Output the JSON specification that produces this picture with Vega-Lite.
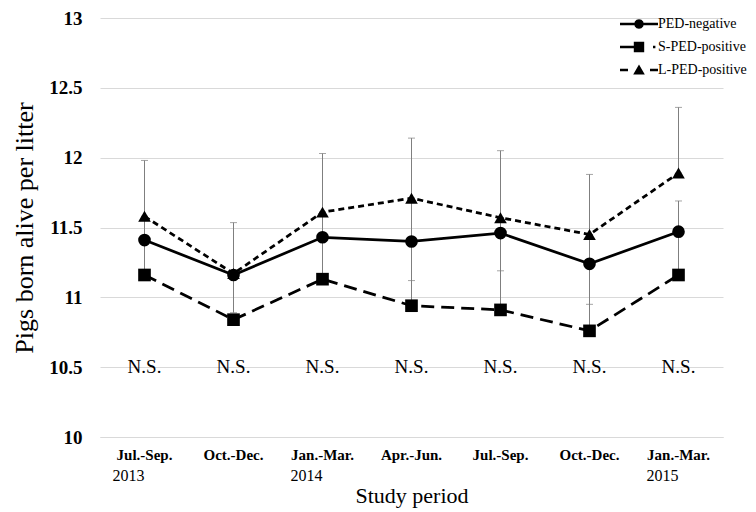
{
  "$schema": "https://vega.github.io/schema/vega-lite/v6.json",
  "width": 623,
  "height": 419,
  "autosize": "none",
  "padding": {"left": 100, "top": 18, "right": 33, "bottom": 75},
  "background": "white",
  "config": {
    "view": {"stroke": null},
    "font": "Liberation Serif",
    "legend": {"labelFont": "Liberation Serif", "labelFontSize": 14, "labelColor": "#000"}
  },
  "datasets": {
    "pts": [
      {"period": "Jul.-Sep. 2013", "series": "PED-negative", "value": 11.41, "lo": 11.41, "hi": 11.41},
      {"period": "Jul.-Sep. 2013", "series": "S-PED-positive", "value": 11.16, "lo": 11.16, "hi": 11.58},
      {"period": "Jul.-Sep. 2013", "series": "L-PED-positive", "value": 11.58, "lo": 11.58, "hi": 11.98},
      {"period": "Oct.-Dec. 2013", "series": "PED-negative", "value": 11.16, "lo": 10.89, "hi": 11.16},
      {"period": "Oct.-Dec. 2013", "series": "S-PED-positive", "value": 10.84, "lo": 10.84, "hi": 10.84},
      {"period": "Oct.-Dec. 2013", "series": "L-PED-positive", "value": 11.17, "lo": 11.17, "hi": 11.535},
      {"period": "Jan.-Mar. 2014", "series": "PED-negative", "value": 11.43, "lo": 11.43, "hi": 11.43},
      {"period": "Jan.-Mar. 2014", "series": "S-PED-positive", "value": 11.13, "lo": 11.13, "hi": 11.61},
      {"period": "Jan.-Mar. 2014", "series": "L-PED-positive", "value": 11.61, "lo": 11.61, "hi": 12.03},
      {"period": "Apr.-Jun. 2014", "series": "PED-negative", "value": 11.4, "lo": 11.12, "hi": 11.4},
      {"period": "Apr.-Jun. 2014", "series": "S-PED-positive", "value": 10.94, "lo": 10.94, "hi": 11.71},
      {"period": "Apr.-Jun. 2014", "series": "L-PED-positive", "value": 11.71, "lo": 11.71, "hi": 12.14},
      {"period": "Jul.-Sep. 2014", "series": "PED-negative", "value": 11.46, "lo": 11.19, "hi": 11.46},
      {"period": "Jul.-Sep. 2014", "series": "S-PED-positive", "value": 10.91, "lo": 10.91, "hi": 11.57},
      {"period": "Jul.-Sep. 2014", "series": "L-PED-positive", "value": 11.57, "lo": 11.57, "hi": 12.05},
      {"period": "Oct.-Dec. 2014", "series": "PED-negative", "value": 11.24, "lo": 10.95, "hi": 11.24},
      {"period": "Oct.-Dec. 2014", "series": "S-PED-positive", "value": 10.76, "lo": 10.76, "hi": 11.45},
      {"period": "Oct.-Dec. 2014", "series": "L-PED-positive", "value": 11.45, "lo": 11.45, "hi": 11.88},
      {"period": "Jan.-Mar. 2015", "series": "PED-negative", "value": 11.47, "lo": 11.47, "hi": 11.47},
      {"period": "Jan.-Mar. 2015", "series": "S-PED-positive", "value": 11.16, "lo": 11.16, "hi": 11.69},
      {"period": "Jan.-Mar. 2015", "series": "L-PED-positive", "value": 11.89, "lo": 11.89, "hi": 12.36}
    ],
    "ns": [
      {"period": "Jul.-Sep. 2013", "label": "N.S."},
      {"period": "Oct.-Dec. 2013", "label": "N.S."},
      {"period": "Jan.-Mar. 2014", "label": "N.S."},
      {"period": "Apr.-Jun. 2014", "label": "N.S."},
      {"period": "Jul.-Sep. 2014", "label": "N.S."},
      {"period": "Oct.-Dec. 2014", "label": "N.S."},
      {"period": "Jan.-Mar. 2015", "label": "N.S."}
    ]
  },
  "layer": [
    {
      "data": {"name": "pts"},
      "mark": {"type": "rule", "color": "#7f7f7f", "strokeWidth": 1},
      "encoding": {
        "x": {"field": "period", "type": "nominal", "sort": ["Jul.-Sep. 2013", "Oct.-Dec. 2013", "Jan.-Mar. 2014", "Apr.-Jun. 2014", "Jul.-Sep. 2014", "Oct.-Dec. 2014", "Jan.-Mar. 2015"], "axis": null},
        "y": {
          "field": "lo", "type": "quantitative", "title": "Pigs born alive per litter",
          "scale": {"domain": [10, 13], "nice": false, "zero": false},
          "axis": {
            "values": [10, 10.5, 11, 11.5, 12, 12.5, 13], "format": "~g",
            "grid": true, "gridColor": "#d9d9d9", "gridWidth": 1,
            "domain": false, "ticks": false,
            "labelFont": "Liberation Serif", "labelFontSize": 19, "labelFontWeight": "bold", "labelColor": "#000", "labelPadding": 18,
            "titleFont": "Liberation Serif", "titleFontSize": 26, "titleFontWeight": "normal", "titleColor": "#000", "titlePadding": 11
          }
        },
        "y2": {"field": "hi"}
      }
    },
    {
      "data": {"name": "pts"},
      "mark": {"type": "tick", "color": "#7f7f7f", "size": 7, "thickness": 1},
      "encoding": {
        "x": {"field": "period", "type": "nominal", "sort": ["Jul.-Sep. 2013", "Oct.-Dec. 2013", "Jan.-Mar. 2014", "Apr.-Jun. 2014", "Jul.-Sep. 2014", "Oct.-Dec. 2014", "Jan.-Mar. 2015"], "axis": null},
        "y": {"field": "hi", "type": "quantitative", "title": "Pigs born alive per litter"}
      }
    },
    {
      "data": {"name": "pts"},
      "mark": {"type": "tick", "color": "#7f7f7f", "size": 7, "thickness": 1},
      "encoding": {
        "x": {"field": "period", "type": "nominal", "sort": ["Jul.-Sep. 2013", "Oct.-Dec. 2013", "Jan.-Mar. 2014", "Apr.-Jun. 2014", "Jul.-Sep. 2014", "Oct.-Dec. 2014", "Jan.-Mar. 2015"], "axis": null},
        "y": {"field": "lo", "type": "quantitative", "title": "Pigs born alive per litter"}
      }
    },
    {
      "data": {"name": "pts"},
      "transform": [{"filter": "datum.series === 'PED-negative'"}],
      "mark": {"type": "line", "color": "black", "strokeWidth": 2.75},
      "encoding": {
        "x": {
          "field": "period", "type": "nominal",
          "sort": ["Jul.-Sep. 2013", "Oct.-Dec. 2013", "Jan.-Mar. 2014", "Apr.-Jun. 2014", "Jul.-Sep. 2014", "Oct.-Dec. 2014", "Jan.-Mar. 2015"],
          "axis": {
            "orient": "bottom",
            "labelExpr": "split(datum.label, ' ')[0]",
            "labelFont": "Liberation Serif", "labelFontSize": 15, "labelFontWeight": "bold", "labelColor": "#000",
            "labelPadding": 10, "labelAngle": 0, "ticks": false, "grid": false,
            "domain": true, "domainColor": "#d9d9d9", "domainWidth": 1, "title": null
          }
        },
        "y": {"field": "value", "type": "quantitative", "title": "Pigs born alive per litter"}
      }
    },
    {
      "data": {"name": "pts"},
      "transform": [{"filter": "datum.series === 'S-PED-positive'"}],
      "mark": {"type": "line", "color": "black", "strokeWidth": 2.75, "strokeDash": [13, 7]},
      "encoding": {
        "x": {"field": "period", "type": "nominal", "sort": ["Jul.-Sep. 2013", "Oct.-Dec. 2013", "Jan.-Mar. 2014", "Apr.-Jun. 2014", "Jul.-Sep. 2014", "Oct.-Dec. 2014", "Jan.-Mar. 2015"], "axis": null},
        "y": {"field": "value", "type": "quantitative", "title": "Pigs born alive per litter"}
      }
    },
    {
      "data": {"name": "pts"},
      "transform": [{"filter": "datum.series === 'L-PED-positive'"}],
      "mark": {"type": "line", "color": "black", "strokeWidth": 2.75, "strokeDash": [6, 4]},
      "encoding": {
        "x": {"field": "period", "type": "nominal", "sort": ["Jul.-Sep. 2013", "Oct.-Dec. 2013", "Jan.-Mar. 2014", "Apr.-Jun. 2014", "Jul.-Sep. 2014", "Oct.-Dec. 2014", "Jan.-Mar. 2015"], "axis": null},
        "y": {"field": "value", "type": "quantitative", "title": "Pigs born alive per litter"}
      }
    },
    {
      "data": {"name": "pts"},
      "transform": [{"filter": "datum.series === 'PED-negative'"}],
      "mark": {"type": "point", "shape": "circle", "filled": true, "color": "black", "opacity": 1, "size": 160},
      "encoding": {
        "x": {"field": "period", "type": "nominal", "sort": ["Jul.-Sep. 2013", "Oct.-Dec. 2013", "Jan.-Mar. 2014", "Apr.-Jun. 2014", "Jul.-Sep. 2014", "Oct.-Dec. 2014", "Jan.-Mar. 2015"], "axis": null},
        "y": {"field": "value", "type": "quantitative", "title": "Pigs born alive per litter"}
      }
    },
    {
      "data": {"name": "pts"},
      "transform": [{"filter": "datum.series === 'S-PED-positive'"}],
      "mark": {"type": "point", "shape": "square", "filled": true, "color": "black", "opacity": 1, "size": 160},
      "encoding": {
        "x": {"field": "period", "type": "nominal", "sort": ["Jul.-Sep. 2013", "Oct.-Dec. 2013", "Jan.-Mar. 2014", "Apr.-Jun. 2014", "Jul.-Sep. 2014", "Oct.-Dec. 2014", "Jan.-Mar. 2015"], "axis": null},
        "y": {"field": "value", "type": "quantitative", "title": "Pigs born alive per litter"}
      }
    },
    {
      "data": {"name": "pts"},
      "transform": [{"filter": "datum.series === 'L-PED-positive'"}],
      "mark": {"type": "point", "shape": "triangle-up", "filled": true, "color": "black", "opacity": 1, "size": 160},
      "encoding": {
        "x": {"field": "period", "type": "nominal", "sort": ["Jul.-Sep. 2013", "Oct.-Dec. 2013", "Jan.-Mar. 2014", "Apr.-Jun. 2014", "Jul.-Sep. 2014", "Oct.-Dec. 2014", "Jan.-Mar. 2015"], "axis": null},
        "y": {"field": "value", "type": "quantitative", "title": "Pigs born alive per litter"}
      }
    },
    {
      "data": {"name": "pts"},
      "mark": {"type": "point", "filled": true, "color": "black", "opacity": 0, "size": 10},
      "encoding": {
        "x": {"field": "period", "type": "nominal", "sort": ["Jul.-Sep. 2013", "Oct.-Dec. 2013", "Jan.-Mar. 2014", "Apr.-Jun. 2014", "Jul.-Sep. 2014", "Oct.-Dec. 2014", "Jan.-Mar. 2015"], "axis": null},
        "y": {"field": "value", "type": "quantitative", "title": "Pigs born alive per litter"},
        "shape": {
          "field": "series", "type": "nominal",
          "scale": {
            "domain": ["PED-negative", "S-PED-positive", "L-PED-positive"],
            "range": [
              "M-4.75,-0.32L-1.1,-0.32L-1.1,0.32L-4.75,0.32ZM1.1,-0.32L4.75,-0.32L4.75,0.32L1.1,0.32ZM1.2,0L1.04,0.6L0.6,1.04L0,1.2L-0.6,1.04L-1.04,0.6L-1.2,0L-1.04,-0.6L-0.6,-1.04L0,-1.2L0.6,-1.04L1.04,-0.6Z",
              "M-4.75,-0.32L-1.3,-0.32L-1.3,0.32L-4.75,0.32ZM-1.3,-1.3L1.3,-1.3L1.3,1.3L-1.3,1.3ZM3.5,-0.32L4.1,-0.32L4.1,0.32L3.5,0.32Z",
              "M-4.75,-0.32L-2.75,-0.32L-2.75,0.32L-4.75,0.32ZM2.75,-0.32L4.75,-0.32L4.75,0.32L2.75,0.32ZM0,-1.4L1.45,1.1L-1.45,1.1Z"
            ]
          },
          "legend": {
            "title": null, "orient": "none", "legendX": 532, "legendY": -1,
            "symbolSize": 64, "symbolStrokeWidth": 0, "symbolOpacity": 1,
            "symbolFillColor": "black",
            "labelFont": "Liberation Serif", "labelFontSize": 14, "labelColor": "#000",
            "labelOffset": 12, "rowPadding": 9
          }
        }
      }
    },
    {
      "data": {"name": "ns"},
      "mark": {"type": "text", "font": "Liberation Serif", "fontSize": 19, "color": "#000", "baseline": "middle"},
      "encoding": {
        "x": {
          "field": "period", "type": "nominal",
          "sort": ["Jul.-Sep. 2013", "Oct.-Dec. 2013", "Jan.-Mar. 2014", "Apr.-Jun. 2014", "Jul.-Sep. 2014", "Oct.-Dec. 2014", "Jan.-Mar. 2015"],
          "axis": {
            "orient": "bottom",
            "labelExpr": "indexof(['Jul.-Sep. 2013', 'Jan.-Mar. 2014', 'Jan.-Mar. 2015'], datum.label) >= 0 ? split(datum.label, ' ')[1] : ''",
            "labelFont": "Liberation Serif", "labelFontSize": 16, "labelFontWeight": "normal", "labelColor": "#000",
            "labelAlign": "right", "labelPadding": 30, "labelAngle": 0,
            "domain": false, "ticks": false, "grid": false,
            "title": "Study period", "titleFont": "Liberation Serif", "titleFontSize": 22, "titleFontWeight": "normal", "titleColor": "#000", "titlePadding": 2
          }
        },
        "y": {"datum": 10.5, "type": "quantitative", "title": "Pigs born alive per litter"},
        "text": {"field": "label"}
      }
    }
  ],
  "resolve": {"axis": {"x": "independent"}}
}
